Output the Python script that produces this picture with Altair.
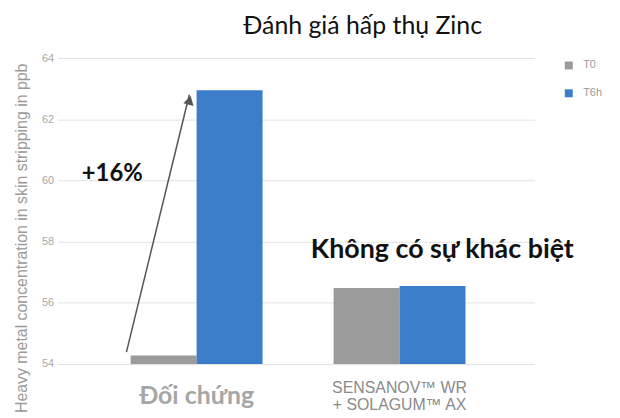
import altair as alt
import pandas as pd

groups = ["Đối chứng", "SENSANOV™ WR + SOLAGUM™ AX"]
series = ["T0", "T6h"]
values_t0 = [54.28, 56.48]
values_t6h = [62.95, 56.55]
colors = ["#9b9b9b", "#3b7dc8"]

label_line1 = "SENSANOV™ WR"
label_line2 = "+ SOLAGUM™ AX"

y_ticks = [54, 56, 58, 60, 62, 64]

# annotation data (x as fraction of plot width, y in data units)
arrow_x = [0.137, 0.270]
arrow_y = [54.39, 62.80]
head_x = [0.2705]
head_y = [62.62]
ann1_text = ["+16%"]
ann1_x = [0.107]
ann1_y = [60.2]
ann2_text = ["Không có sự khác biệt"]
ann2_x = [0.805]
ann2_y = [57.72]

rows = []
for g, a, b in zip(groups, values_t0, values_t6h):
    rows.append({"group": g, "series": "T0", "value": a})
    rows.append({"group": g, "series": "T6h", "value": b})
df = pd.DataFrame(rows)

W, H = 476, 308
is_first = f"datum.value == '{groups[0]}'"


def cond(a, b):
    return {"condition": {"test": is_first, "value": a}, "value": b}


bars = alt.Chart(df).mark_bar(clip=True).encode(
    x=alt.X("group:N", sort=groups, title=None,
            scale=alt.Scale(paddingInner=0.35, paddingOuter=0.34),
            axis=alt.Axis(
                labelAngle=0, domain=False, ticks=False, grid=False,
                labelPadding=24, labelBaseline=cond("line-top", "middle"),
                labelExpr=f"{is_first} ? datum.value : ['{label_line1}', '{label_line2}']",
                labelFont=cond("Lato", "Liberation Sans"),
                labelFontSize=cond(25, 16),
                labelFontWeight=cond("bold", "normal"),
                labelColor=cond("#a6a6a6", "#8a8a8a"),
                labelLineHeight=17,
            )),
    xOffset=alt.XOffset("series:N", sort=series),
    y=alt.Y("value:Q", title="Heavy metal concentration in skin stripping in ppb",
            scale=alt.Scale(domain=[54, 64], zero=False, nice=False),
            axis=alt.Axis(values=y_ticks, domain=False, tickColor="#e2e2e2", tickSize=4,
                          labelPadding=4, labelColor="#a8a8a8", labelFontSize=11,
                          labelFont="Liberation Sans", gridColor="#e2e2e2",
                          titleColor="#9a9a9a", titleFontSize=16, titleFont="Liberation Sans",
                          titleFontWeight="normal", titleX=-40, titleY=181,
                          titleBaseline="middle")),
    color=alt.Color("series:N", sort=series,
                    scale=alt.Scale(domain=series, range=colors),
                    legend=alt.Legend(title=None, orient="none", legendX=505, legendY=2,
                                      symbolType="square", symbolSize=64, symbolStrokeWidth=0,
                                      labelColor="#9a9a9a", labelFontSize=11,
                                      labelFont="Liberation Sans", rowPadding=16,
                                      labelOffset=9, padding=0)),
)

yq = alt.Scale(domain=[54, 64], zero=False, nice=False)
xq = alt.Scale(domain=[0, 1], range=[0, W])

arrow_df = pd.DataFrame({"x": arrow_x[:1], "y": arrow_y[:1], "x2": arrow_x[1:], "y2": arrow_y[1:]})
arrow = alt.Chart(arrow_df).mark_rule(color="#555555", strokeWidth=1.5).encode(
    x=alt.X("x:Q", scale=xq, axis=None),
    x2="x2:Q",
    y=alt.Y("y:Q", scale=yq, axis=None),
    y2="y2:Q",
)
head = alt.Chart(pd.DataFrame({"x": head_x, "y": head_y})).mark_point(
    shape="triangle-up", filled=True, color="#555555", size=110, angle=14, opacity=1
).encode(
    x=alt.X("x:Q", scale=xq, axis=None),
    y=alt.Y("y:Q", scale=yq, axis=None),
)
text1 = alt.Chart(pd.DataFrame({"t": ann1_text, "x": ann1_x, "y": ann1_y})).mark_text(
    font="Lato", fontWeight="bold", fontSize=24, color="#111111", baseline="middle"
).encode(
    x=alt.X("x:Q", scale=xq, axis=None),
    y=alt.Y("y:Q", scale=yq, axis=None),
    text="t:N",
)
text2 = alt.Chart(pd.DataFrame({"t": ann2_text, "x": ann2_x, "y": ann2_y})).mark_text(
    font="Lato", fontWeight="bold", fontSize=27, color="#111111", baseline="middle"
).encode(
    x=alt.X("x:Q", scale=xq, axis=None),
    y=alt.Y("y:Q", scale=yq, axis=None),
    text="t:N",
)

chart = alt.layer(bars, arrow, head, text1, text2).resolve_scale(
    x="independent", y="independent"
).properties(
    width=W, height=H,
    title=alt.TitleParams("Đánh giá hấp thụ Zinc", font="Lato", fontSize=25,
                          fontWeight="normal", color="#111111", anchor="middle",
                          dx=65, offset=13),
    autosize=alt.AutoSizeParams(type="none"),
    padding={"left": 54, "top": 49, "right": 78, "bottom": 52},
    background="white",
).configure_view(stroke=None)

chart.save("out.html", embed_options={"renderer": "svg", "actions": False})
